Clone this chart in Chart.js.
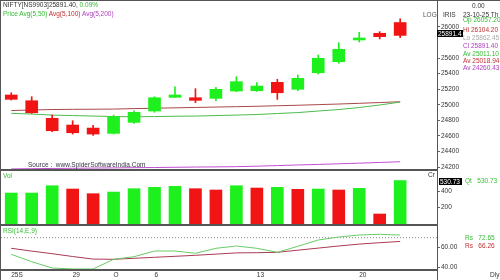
<!DOCTYPE html>
<html>
<head>
<meta charset="utf-8">
<script src="https://cdn.jsdelivr.net/npm/chart.js@4.4.1/dist/chart.umd.min.js"></script>
<style>
  body { margin: 0; background: #fff; }
  #wrap { position: relative; width: 500px; height: 280px; overflow: hidden; background: #fff;
          font-family: "Liberation Sans", Arial, sans-serif; font-size: 6.5px; color: #333; }
  #wrap canvas { position: absolute; left: 0; }
  .t { position: absolute; white-space: nowrap; line-height: 8px; }
  .ln { position: absolute; background: #555; }
  .box { position: absolute; background: #000; color: #fff; line-height: 7px; padding-left: 1px; }
  .g { color: #33bb33; } .r { color: #c03030; } .m { color: #b040c0; }
</style>
</head>
<body>
<div id="wrap">
  <canvas id="priceChart" width="500" height="170" style="top:0"></canvas>
  <canvas id="volChart" width="500" height="55" style="top:170px"></canvas>
  <canvas id="rsiChart" width="500" height="55" style="top:225px"></canvas>

  <!-- borders / separators -->
  <div class="ln" style="left:0;top:0;width:1px;height:280px"></div>
  <div class="ln" style="left:0;top:0;width:500px;height:1px"></div>
  <div class="ln" style="left:437px;top:0;width:1px;height:280px"></div>
  <div class="ln" style="left:0;top:169px;width:438px;height:2px"></div>
  <div class="ln" style="left:0;top:224px;width:438px;height:2px"></div>
  <div class="ln" style="left:0;top:269px;width:438px;height:2px"></div>

  <!-- header -->
  <div class="t" style="left:3px;top:1px">NIFTY[NS9903]25891.40, <span class="g">0.09%</span></div>
  <div class="t" style="left:3px;top:10px"><span class="g">Price Avg(5,50)</span> <span class="r">Avg(5,100)</span> <span class="m">Avg(5,200)</span></div>
  <div class="t" style="left:28px;top:161px;color:#334">Source :&nbsp; www.SpiderSoftwareIndia.Com</div>
  <div class="t" style="left:423px;top:11px;color:#555">LOG</div>

  <!-- right info panel -->
  <div class="t" style="left:472px;top:2px">0.00</div>
  <div class="t" style="left:443px;top:11px">IRIS</div>
  <div class="t" style="left:463px;top:11px">23-10-25 Th</div>
  <div class="t g" style="left:463px;top:16px">Op 26057.20</div>
  <div class="t r" style="left:463px;top:26px">Hi 26104.20</div>
  <div class="t" style="left:463px;top:34px;color:#aaa">Lo 25862.45</div>
  <div class="t m" style="left:463px;top:42px">Cl 25891.40</div>
  <div class="t g" style="left:463px;top:50px">Av 25011.10</div>
  <div class="t r" style="left:463px;top:57px">Av 25018.94</div>
  <div class="t m" style="left:463px;top:64px">Av 24260.43</div>
  <div class="box" style="left:437px;top:30px;width:25px;height:7px">25891.4</div>

  <div class="t g" style="left:3px;top:172px">Vol</div>
  <div class="t" style="left:428px;top:171px">Cr</div>
  <div class="box" style="left:439px;top:178px;width:22px;height:7px">530.73</div>
  <div class="t g" style="left:465px;top:177px">Qt&nbsp;&nbsp; 530.73</div>

  <div class="t g" style="left:3px;top:227px">RSI(14,E,9)</div>
  <div class="t g" style="left:465px;top:234px">Rs&nbsp;&nbsp; 72.65</div>
  <div class="t r" style="left:465px;top:242px">Rs&nbsp;&nbsp; 66.26</div>
  <div class="t" style="left:490px;top:271px">Dly</div>
</div>

<script>
// Données (une valeur par séance)
const days = [1, 2, 3, 4, 5, 6, 7, 8, 9, 10, 11, 12, 13, 14, 15, 16, 17, 18, 19, 20];
const openP  = [25126, 25052, 24826, 24740, 24701, 24633, 24774, 24920, 25096, 25091, 25083, 25177, 25181, 25289, 25199, 25412, 25554, 25833, 25919, 26057.2];
const highP  = [25155, 25104, 24868, 24795, 24736, 24868, 24924, 25104, 25232, 25207, 25225, 25361, 25284, 25327, 25383, 25640, 25798, 25932, 25940, 26104.2];
const lowP   = [25061, 24890, 24654, 24624, 24607, 24624, 24762, 24903, 25096, 25027, 25052, 25168, 25173, 25070, 25181, 25396, 25533, 25807, 25846, 25862.45];
const closeP = [25070, 24898, 24667, 24641, 24624, 24847, 24903, 25091, 25126, 25057, 25199, 25297, 25241, 25155, 25340, 25597, 25713, 25859, 25875, 25891.4];

const avg50  = [24890, 24881, 24868, 24862, 24855, 24849, 24846, 24849, 24853, 24855, 24862, 24868, 24875, 24888, 24900, 24920, 24939, 24965, 24997, 25035];
const avg100 = [24926, 24933, 24939, 24942, 24943, 24945, 24951, 24956, 24961, 24966, 24971, 24976, 24981, 24988, 24994, 25002, 25010, 25019, 25029, 25039];
const avg200 = [24176, 24179, 24182, 24184, 24187, 24189, 24192, 24194, 24197, 24200, 24202, 24205, 24211, 24219, 24227, 24234, 24242, 24250, 24259, 24268];

const volume = [378, 378, 467, 427, 370, 390, 431, 448, 460, 431, 415, 467, 439, 448, 423, 427, 415, 435, 122, 530.73];
const volUp  = [1, 1, 1, 0, 0, 1, 1, 1, 1, 0, 0, 1, 0, 1, 0, 1, 0, 1, 0, 1];

const rsiValues = [53.4, 46, 39.7, 38.7, 38.7, 48.4, 51, 56.7, 56.7, 54.4, 59.4, 61.7, 59.4, 55.4, 61.4, 67.7, 70.7, 72.7, 73.4, 72.65];
const rsiSignal = [59.4, 56.6, 54, 51.2, 48.6, 48.4, 49.4, 50.4, 51.4, 52.4, 53.6, 54.8, 55, 55.4, 57.5, 59.6, 61.7, 63.6, 65, 66.26];
const rsiLevel = 70;

const priceTicks = [24200, 24400, 24600, 24800, 25000, 25200, 25400, 25600, 26000];
const volTicks = [200, 400];
const rsiTicks = [40, 60];
const dateTicks = [1, 4, 6, 8, 13, 18];
const dateLabels = ["25S", "29", "O", "6", "13", "20"];

// Couleurs
const upColor = "#1ef01e";
const downColor = "#f01414";
const xMin = 0.5, xMax = 21.8;
const axisFont = { family: "Liberation Sans", size: 6.5 };

Chart.defaults.animation = false;
Chart.defaults.responsive = false;
Chart.defaults.devicePixelRatio = 1;
Chart.defaults.plugins.legend.display = false;
Chart.defaults.plugins.tooltip.enabled = false;

function hiddenX() {
    return { type: "linear", min: xMin, max: xMax, offset: false, display: false };
}

function rightAxis(min, max, ticks, fmt) {
    return {
        position: "right", min: min, max: max,
        afterFit: scale => {
            scale.width = 63;
            scale.paddingTop = 0;
            scale.paddingBottom = 0;
        },
        afterBuildTicks: scale => { scale.ticks = ticks.map(v => ({ value: v })); },
        grid: { drawOnChartArea: false, drawTicks: true, tickLength: 3, color: "#666" },
        border: { display: true, color: "#555" },
        ticks: { padding: 1, color: "#333", font: axisFont, callback: fmt }
    };
}

const pts = arr => days.map((d, i) => ({ x: d, y: arr[i] }));
const candleColors = days.map((d, i) => closeP[i] >= openP[i] ? upColor : downColor);

// Graphique des prix (bougies + moyennes)
new Chart(document.getElementById("priceChart"), {
    type: "bar",
    data: {
        datasets: [
            { data: days.map((d, i) => ({ x: d, y: [openP[i], closeP[i]] })), backgroundColor: candleColors, barThickness: 12, minBarLength: 1, grouped: false, order: 0 },
            { data: days.map((d, i) => ({ x: d, y: [lowP[i], highP[i]] })), backgroundColor: candleColors, barThickness: 1, grouped: false, order: 1 },
            { type: "line", data: pts(avg50), borderColor: "#4cbb4c", borderWidth: 1, pointRadius: 0, order: 2 },
            { type: "line", data: pts(avg100), borderColor: "#a84848", borderWidth: 1, pointRadius: 0, order: 2 },
            { type: "line", data: pts(avg200), borderColor: "#c050d0", borderWidth: 1, pointRadius: 0, order: 2, clip: false }
        ]
    },
    options: {
        layout: { padding: { left: 1, top: 3, right: 0, bottom: 1 } },
        scales: { x: hiddenX(), y: rightAxis(24175, 26308, priceTicks, v => String(v)) }
    }
});

// Volume
new Chart(document.getElementById("volChart"), {
    type: "bar",
    data: {
        datasets: [{
            data: pts(volume),
            backgroundColor: volUp.map(u => u ? upColor : downColor),
            barThickness: 12
        }]
    },
    options: {
        layout: { padding: { left: 1, top: 1, right: 0, bottom: 1 } },
        scales: { x: hiddenX(), y: rightAxis(0, 647, volTicks, v => String(v)) }
    }
});

// RSI
new Chart(document.getElementById("rsiChart"), {
    type: "line",
    data: {
        datasets: [
            { data: pts(rsiValues), borderColor: "#66cc66", borderWidth: 1, pointRadius: 0 },
            { data: pts(rsiSignal), borderColor: "#aa3a55", borderWidth: 1, pointRadius: 0 },
            { data: [{ x: xMin, y: rsiLevel }, { x: xMax, y: rsiLevel }], borderColor: "#888", borderWidth: 1, borderDash: [1, 2], pointRadius: 0 }
        ]
    },
    options: {
        layout: { padding: { left: 1, top: 1, right: 0, bottom: 0 } },
        scales: {
            x: {
                type: "linear", min: xMin, max: xMax, offset: false,
                afterFit: scale => { scale.height = 11; scale.paddingLeft = 0; scale.paddingRight = 0; },
                afterBuildTicks: scale => { scale.ticks = dateTicks.map(v => ({ value: v })); },
                grid: { display: false, drawTicks: false },
                border: { display: true, color: "#555" },
                ticks: { autoSkip: false, maxRotation: 0, align: "start", padding: 2, color: "#333", font: axisFont,
                         callback: v => dateLabels[dateTicks.indexOf(v)] }
            },
            y: rightAxis(38.7, 81.7, rsiTicks, v => v.toFixed(2))
        }
    }
});
</script>
</body>
</html>
